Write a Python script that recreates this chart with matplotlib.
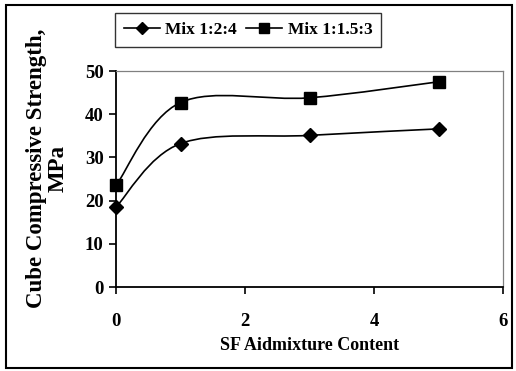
import matplotlib.pyplot as plt
import numpy as np
from matplotlib.path import Path
from matplotlib.patches import PathPatch, Rectangle
from matplotlib.lines import Line2D

plt.rcParams['font.family'] = ['Liberation Serif', 'DejaVu Serif']
plt.rcParams['font.weight'] = 'bold'

sf_content = [0, 1, 3, 5]
mix_124 = [18.5, 33.2, 35.1, 36.6]
mix_1153 = [23.5, 42.7, 43.8, 47.5]


def smooth_path(x, y):
    # Excel-style smoothed line: cubic bezier segments through the points
    pts = np.column_stack([x, y]).astype(float)
    n = len(pts)
    verts = [pts[0]]
    codes = [Path.MOVETO]
    for i in range(n - 1):
        p0 = pts[i - 1] if i > 0 else pts[i]
        p1 = pts[i]
        p2 = pts[i + 1]
        p3 = pts[i + 2] if i + 2 < n else pts[i + 1]
        c1 = p1 + (p2 - p0) / 6.0
        c2 = p2 - (p3 - p1) / 6.0
        verts += [c1, c2, p2]
        codes += [Path.CURVE4] * 3
    return Path(verts, codes)


fig = plt.figure(figsize=(5.16, 3.71), dpi=100)
ax = fig.add_axes([116 / 516, 1 - 287 / 371, 387 / 516, 216 / 371])

for y, mk in [(mix_124, 'D'), (mix_1153, 's')]:
    ax.add_patch(PathPatch(smooth_path(sf_content, y), fill=False,
                           edgecolor='black', lw=1.2))
    ax.plot(sf_content, y, ls='none', marker=mk, color='black',
            markersize=7.5 if mk == 'D' else 8, clip_on=False, zorder=3)

ax.set_xlim(0, 6)
ax.set_ylim(0, 50)
ax.set_xticks([0, 2, 4, 6])
ax.set_yticks([0, 10, 20, 30, 40, 50])
ax.tick_params(axis='both', direction='out', length=5, width=1.2,
               labelsize=13.5)
ax.tick_params(axis='x', pad=14)
ax.tick_params(axis='y', pad=4)
for lab in ax.get_xticklabels() + ax.get_yticklabels():
    lab.set_fontweight('bold')

ax.spines['left'].set_linewidth(1.3)
ax.spines['bottom'].set_linewidth(1.3)
ax.spines['top'].set_color('#808080')
ax.spines['right'].set_color('#808080')
ax.spines['top'].set_linewidth(0.9)
ax.spines['right'].set_linewidth(0.9)

ax.set_xlabel('SF Aidmixture Content', fontsize=13, fontweight='bold',
              labelpad=5)
ax.set_ylabel('Cube Compressive Strength,\nMPa', fontsize=16.5,
              fontweight='bold', linespacing=1.05)
ax.yaxis.set_label_coords(-0.122, 0.55)

handles = [Line2D([], [], color='black', marker='D', markersize=6.5, lw=1.2),
           Line2D([], [], color='black', marker='s', markersize=7, lw=1.2)]
leg = fig.legend(handles, ['Mix 1:2:4', 'Mix 1:1.5:3'], ncol=2,
                 loc='center', bbox_to_anchor=(248 / 516, 1 - 30 / 371),
                 prop={'weight': 'bold', 'size': 12.5}, frameon=True,
                 fancybox=False, edgecolor='black', handlelength=2.1,
                 handletextpad=0.3, columnspacing=0.5, borderpad=0.5)
leg.get_frame().set_linewidth(1.0)

fig.patches.append(Rectangle((6 / 516, 3 / 371), 506 / 516, 363 / 371,
                             transform=fig.transFigure, fill=False,
                             edgecolor='black', lw=1.5))

fig.savefig('out.png', dpi=100)
